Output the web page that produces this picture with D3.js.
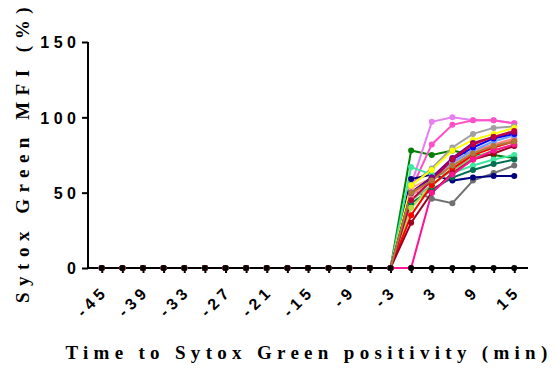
<!DOCTYPE html>
<html>
<head>
<meta charset="utf-8">
<script src="https://cdn.jsdelivr.net/npm/d3@7"></script>
<style>
  body { margin: 0; background: #fff; }
</style>
</head>
<body>
<div id="chart"></div>
<script>
// time points, minutes relative to Sytox Green positivity
const times = d3.range(-45, 16, 3)
const xTickLabels = [-45, -39, -33, -27, -21, -15, -9, -3, 3, 9, 15]
const yTickLabels = [0, 50, 100, 150]

// every cell is 0 up to -3 min; the values below are for 0, 3, 6, 9, 12, 15 min
const before = times.filter(t => t < 0).map(() => 0)
const cellColors = [
  '#000000', '#008000', '#e680f0', '#ff50c8', '#a0a0a0', '#707070',
  '#000080', '#40e8a0', '#007050', '#b0e040', '#80c080', '#ffb070',
  '#ff8080', '#70a0ff', '#ff0000', '#ffff00', '#0000ff', '#800080',
  '#c00040', '#a00020', '#ff1493', '#b07838'
]
const cellValues = [
  [0, 0, 0, 0, 0, 0],
  [78, 75, 78, 75, 75, 73],
  [55, 97, 100, 98, 98, 96],
  [52, 82, 95, 98, 98, 96],
  [55, 66, 80, 89, 93, 94],
  [52, 46, 43, 58, 63, 68],
  [59, 62, 58, 60, 61, 61],
  [67, 62, 63, 68, 72, 75],
  [43, 52, 60, 65, 69, 72],
  [40, 55, 66, 75, 80, 85],
  [45, 55, 65, 73, 78, 82],
  [53, 60, 70, 77, 82, 85],
  [48, 58, 70, 78, 82, 86],
  [50, 60, 70, 78, 84, 88],
  [35, 55, 66, 75, 80, 84],
  [55, 65, 78, 85, 89, 93],
  [50, 60, 72, 80, 86, 89],
  [50, 60, 73, 83, 87, 90],
  [45, 58, 72, 82, 87, 91],
  [30, 50, 63, 72, 76, 81],
  [0, 50, 62, 72, 78, 82],
  [50, 58, 68, 76, 81, 84]
]

const series = cellValues.map((vals, i) => ({
  color: cellColors[i],
  points: before.concat(vals).map((v, j) => ({ t: times[j], v: v }))
}))

const width = 556
const height = 370

const svg = d3
  .select('#chart')
  .append('svg')
  .attr('width', width)
  .attr('height', height)

const xPositionScale = d3.scaleLinear().domain([-47, 17]).range([88, 528])
const yPositionScale = d3.scaleLinear().domain([0, 150]).range([268, 42])

function tickText(sel) {
  sel
    .attr('fill', '#000')
    .style('font-family', "'Liberation Sans', Arial, sans-serif")
    .style('font-weight', 'bold')
    .style('font-size', '16px')
    .style('letter-spacing', '4.5px')
}

// axes
const xAxis = d3.axisBottom(xPositionScale).tickValues(times).tickSize(5).tickFormat('')
svg.append('g')
  .attr('class', 'axis x-axis')
  .attr('transform', 'translate(0,' + yPositionScale(0) + ')')
  .call(xAxis)

svg.select('.x-axis').selectAll('.tick')
  .filter(d => xTickLabels.includes(d))
  .append('text')
  .attr('text-anchor', 'end')
  .attr('transform', 'translate(7,24) rotate(-45)')
  .call(tickText)
  .text(d => d)

const yAxis = d3.axisLeft(yPositionScale).tickValues(yTickLabels).tickSize(6).tickPadding(6)
svg.append('g')
  .attr('class', 'axis y-axis')
  .attr('transform', 'translate(' + xPositionScale(-47) + ',0)')
  .call(yAxis)

svg.selectAll('.axis path, .axis line').attr('stroke', '#000').attr('stroke-width', 2)
// plain lines instead of the capped domain paths
svg.select('.x-axis .domain').attr('d', 'M' + xPositionScale(-47) + ',0H' + xPositionScale(17))
svg.select('.y-axis .domain').attr('d', 'M0,' + yPositionScale(150) + 'V' + (yPositionScale(0) + 1))
svg.select('.y-axis').selectAll('text')
  .call(tickText)
  .attr('dx', '4.5px')
  .attr('dy', '0.36em')

// lines and dots
const line = d3.line()
  .x(d => xPositionScale(d.t))
  .y(d => yPositionScale(d.v))

svg.append('g')
  .selectAll('path')
  .data(series)
  .enter()
  .append('path')
  .attr('fill', 'none')
  .attr('stroke', d => d.color)
  .attr('stroke-width', 2)
  .attr('d', d => line(d.points))

// x axis line drawn again over the data so the zero run looks dark
svg.append('path')
  .attr('d', 'M' + xPositionScale(-47) + ',' + yPositionScale(0) + 'H' + xPositionScale(-3))
  .attr('stroke', '#000')
  .attr('stroke-width', 1.8)

const dotOrder = series.slice(1).concat(series[0])
svg.append('g')
  .selectAll('g')
  .data(dotOrder)
  .enter()
  .append('g')
  .attr('fill', d => d.color)
  .selectAll('circle')
  .data(d => d.points)
  .enter()
  .append('circle')
  .attr('cx', d => xPositionScale(d.t))
  .attr('cy', d => yPositionScale(d.v))
  .attr('r', 3)

// titles
function titleText(sel, spacing) {
  sel
    .attr('fill', '#000')
    .attr('text-anchor', 'middle')
    .style('font-family', "'Liberation Serif', 'Times New Roman', serif")
    .style('font-weight', 'bold')
    .style('font-size', '19px')
    .style('letter-spacing', spacing)
}

svg.append('text')
  .attr('transform', 'translate(29,152) rotate(-90)')
  .call(titleText, '6.5px')
  .text('Sytox Green MFI (%)')

svg.append('text')
  .attr('x', 309)
  .attr('y', 359)
  .call(titleText, '5.3px')
  .text('Time to Sytox Green positivity (min)')
</script>
</body>
</html>
